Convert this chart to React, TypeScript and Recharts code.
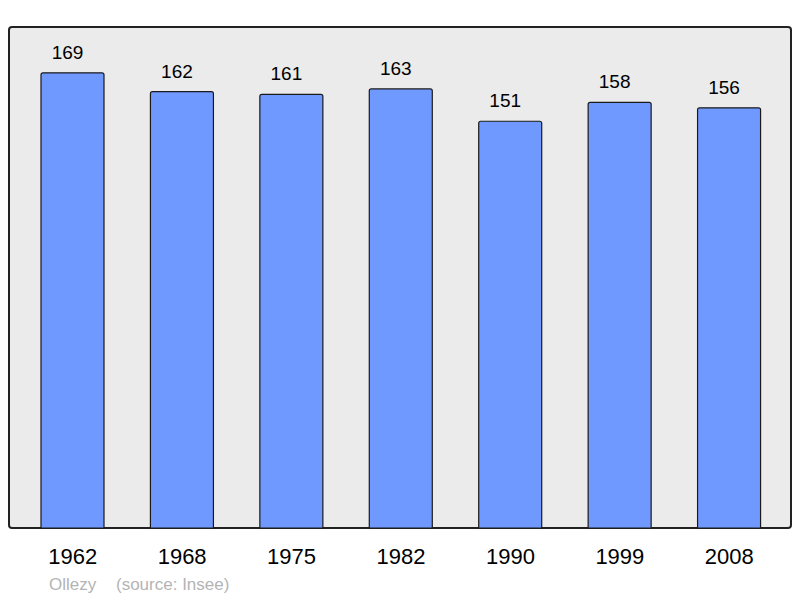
import React from 'react';
import { BarChart, Bar, XAxis, YAxis, LabelList } from 'recharts';

const years = ['1962', '1968', '1975', '1982', '1990', '1999', '2008'];
const population = [169, 162, 161, 163, 151, 158, 156];

const data = years.map((y, i) => ({ year: y, value: population[i] }));

const FONT = '"Liberation Sans", Arial, sans-serif';

export default function App() {
  return (
    <div style={{ position: 'absolute', left: 0, top: 0, width: 800, height: 598, background: '#fff' }}>
      <div
        style={{
          position: 'absolute',
          left: 8,
          top: 26,
          width: 784,
          height: 503,
          boxSizing: 'border-box',
          background: '#ebebeb',
          border: '2px solid #222',
          borderRadius: 4,
        }}
      />
      <div style={{ position: 'absolute', left: 0, top: 0 }}>
        <BarChart
          width={800}
          height={598}
          data={data}
          margin={{ top: 27, right: 9, bottom: 30, left: 9 }}
        >
          <YAxis hide domain={[0, 186]} type="number" />
          <XAxis
            dataKey="year"
            height={40}
            padding={{ left: 9, right: 7 }}
            axisLine={false}
            tickLine={false}
            tickSize={0}
            tickMargin={20}
            interval={0}
            tick={{ fontSize: 22, fill: '#000', fontFamily: FONT }}
          />
          <Bar
            dataKey="value"
            barSize={63}
            fill="#7099ff"
            stroke="#1a1a1a"
            strokeWidth={1.2}
            radius={[2, 2, 0, 0]}
            isAnimationActive={false}
          >
            <LabelList
              dataKey="value"
              position="top"
              offset={14}
              dx={-5}
              style={{ fontSize: 19, fill: '#000', fontFamily: FONT }}
            />
          </Bar>
        </BarChart>
      </div>
      <div style={{ position: 'absolute', left: 49, top: 575, fontFamily: FONT, fontSize: 17, color: '#b4b4b4', whiteSpace: 'pre' }}>
        Ollezy
      </div>
      <div style={{ position: 'absolute', left: 116, top: 575, fontFamily: FONT, fontSize: 17, color: '#b4b4b4', whiteSpace: 'pre' }}>
        (source: Insee)
      </div>
    </div>
  );
}
